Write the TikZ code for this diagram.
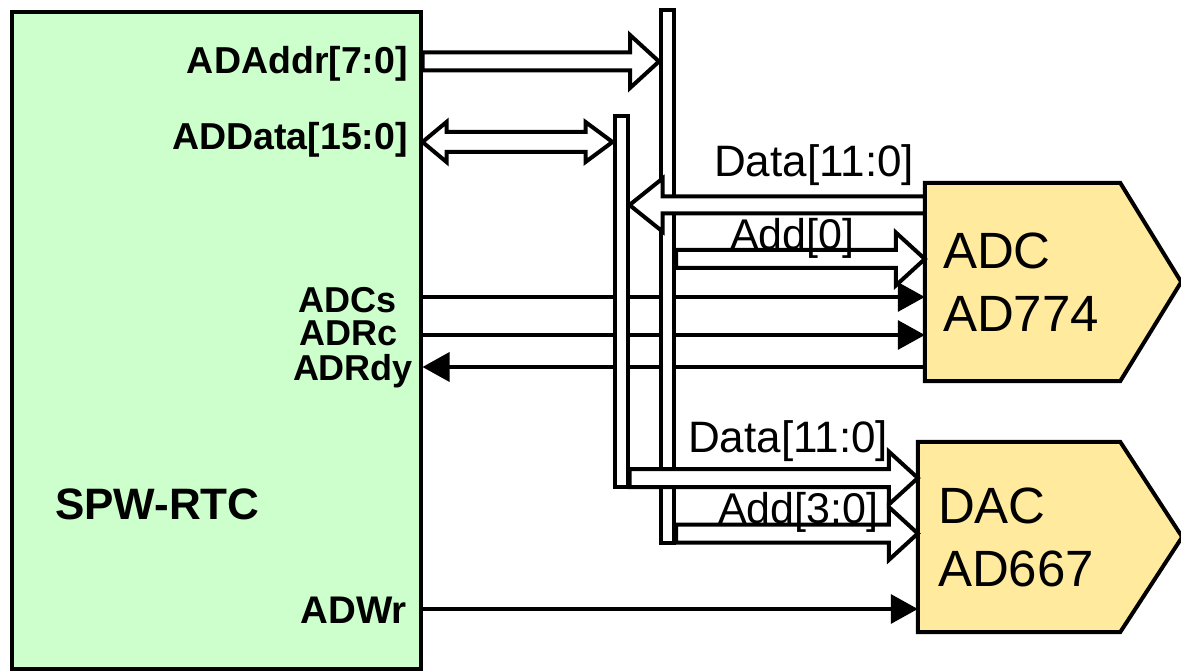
\documentclass[tikz,border=0pt]{standalone}
\usepackage{fontspec}
\setmainfont{Liberation Sans}
\usetikzlibrary{arrows.meta,positioning,calc,backgrounds}
\definecolor{rtcgreen}{RGB}{204,255,204}
\definecolor{chipyellow}{RGB}{255,234,158}
\tikzset{
  rtcbox/.style={rectangle, draw=black, fill=rtcgreen, line width=4pt, inner sep=0pt},
  chipbox/.style={rectangle, inner sep=0pt, align=left,
    font=\fontsize{51}{63}\selectfont},
  chipedge/.style={draw=black, fill=chipyellow, line width=4pt, line join=miter},
  busbar/.style={rectangle, draw=black, fill=white, line width=4pt, inner sep=0pt},
  pinlabel/.style={font=\fontsize{37.5}{37.5}\selectfont\bfseries, inner sep=0pt},
  ctllabel/.style={font=\fontsize{36}{36}\selectfont\bfseries, inner sep=0pt},
  titlelabel/.style={font=\fontsize{44}{44}\selectfont\bfseries, inner sep=0pt},
  buslabel/.style={font=\fontsize{43}{43}\selectfont, inner sep=0pt},
  sigarrow/.style={-{Triangle[length=27pt,width=29pt]}, line width=3.5pt},
}

\begin{document}
\begin{tikzpicture}[
    x=1pt, y=-1pt,
    busright/.style={draw=black, fill=white, line width=4pt, line join=miter,
      to path={let \p1=(\tikztostart), \p2=(\tikztotarget) in
        (\x1,\y1+9pt) -- (\x2-29pt,\y1+9pt) -- (\x2-29pt,\y1+26.5pt) -- (\x2,\y1)
        -- (\x2-29pt,\y1-26.5pt) -- (\x2-29pt,\y1-9pt) -- (\x1,\y1-9pt) -- cycle}},
    busleft/.style={draw=black, fill=white, line width=4pt, line join=miter,
      to path={let \p1=(\tikztostart), \p2=(\tikztotarget) in
        (\x1,\y1+8.5pt) -- (\x2+33pt,\y1+8.5pt) -- (\x2+33pt,\y1+26.5pt) -- (\x2,\y1)
        -- (\x2+33pt,\y1-26.5pt) -- (\x2+33pt,\y1-8.5pt) -- (\x1,\y1-8.5pt) -- cycle}},
    busboth/.style={draw=black, fill=white, line width=4pt, line join=miter,
      to path={let \p1=(\tikztostart), \p2=(\tikztotarget) in
        (\x1,\y1) -- (\x1+24pt,\y1+20pt) -- (\x1+24pt,\y1+10pt) -- (\x2-27pt,\y1+10pt)
        -- (\x2-27pt,\y1+20pt) -- (\x2,\y1) -- (\x2-27pt,\y1-20pt) -- (\x2-27pt,\y1-10pt)
        -- (\x1+24pt,\y1-10pt) -- (\x1+24pt,\y1-20pt) -- cycle}}
  ]
  \useasboundingbox (0,0) rectangle (1181,671);

  % ============ signal levels ============
  \coordinate (yaddr)    at (0,61.5);
  \coordinate (ydata)    at (0,142);
  \coordinate (yadcdata) at (0,205);
  \coordinate (yadd0)    at (0,259);
  \coordinate (ycs)      at (0,297);
  \coordinate (yrc)      at (0,335);
  \coordinate (yrdy)     at (0,367);
  \coordinate (ydacdata) at (0,478);
  \coordinate (yadd30)   at (0,533.5);
  \coordinate (ywr)      at (0,609);

  % ============ SPW-RTC block ============
  \node[rtcbox, minimum width=408.5, minimum height=657] (spw) at (216.25,340.5) {};
  \node[titlelabel, anchor=base west] (lrtc)  at (55,519)    {SPW-RTC};
  \node[pinlabel, anchor=base east]   (laddr) at (408,74)    {ADAddr[7:0]};
  \node[pinlabel, anchor=base east]   (ldata) at (408,150)   {ADData[15:0]};
  \node[ctllabel, anchor=base]        (lcs)   at (348,312)   {ADCs};
  \node[ctllabel, anchor=base]        (lrc)   at (348.5,345) {ADRc};
  \node[ctllabel, anchor=base]        (lrdy)  at (353,380)   {ADRdy};
  \node[pinlabel, anchor=base east, font=\fontsize{38.5}{38.5}\selectfont\bfseries]
    (lwr) at (407,623) {ADWr};

  % ============ converters ============
  \node[chipbox, minimum width=195, minimum height=198, text width=159]
    (adc) at (1022.5,282) {ADC\\AD774};
  \node[chipbox, minimum width=202, minimum height=190, text width=162]
    (dac) at (1019,537) {DAC\\AD667};
  \begin{scope}[on background layer]
    \draw[chipedge] (adc.north west) -- (adc.north east) -- ([xshift=61pt]adc.east)
      -- (adc.south east) -- (adc.south west) -- cycle;
    \draw[chipedge] (dac.north west) -- (dac.north east) -- ([xshift=62pt]dac.east)
      -- (dac.south east) -- (dac.south west) -- cycle;
  \end{scope}

  % ============ control lines (under the bus bars) ============
  \draw[sigarrow] (spw.east |- ycs)  -- (adc.west |- ycs);
  \draw[sigarrow] (spw.east |- yrc)  -- (adc.west |- yrc);
  \draw[sigarrow] (adc.west |- yrdy) -- (spw.east |- yrdy);
  \draw[sigarrow] (spw.east |- ywr)  -- (dac.west |- ywr);

  % ============ bus bars ============
  \node[busbar, minimum width=13, minimum height=533] (addrbus) at (667.5,276.5) {};
  \node[busbar, minimum width=13, minimum height=370] (databus) at (621,301.5) {};

  % ============ buses ============
  \draw[busright] (spw.east |- yaddr) to (addrbus.west |- yaddr);
  \draw[busboth]  (spw.east |- ydata) to (databus.west |- ydata);
  \draw[busleft]  (adc.west |- yadcdata) to (databus.east |- yadcdata);
  \draw[busright] (addrbus.east |- yadd0) to (adc.west |- yadd0);
  \draw[busright] (databus.east |- ydacdata) to (dac.west |- ydacdata);
  \draw[busright] (addrbus.east |- yadd30) to (dac.west |- yadd30);

  % bus names
  \node[buslabel, anchor=base west, font=\fontsize{44}{44}\selectfont]
    (ladcdata) at (714,177) {Data[11:0]};
  \node[buslabel, anchor=base west] (ladd0) at (730,250) {Add[0]};
  \node[buslabel, anchor=base west, font=\fontsize{44}{44}\selectfont]
    (ldacdata) at (688,452) {Data[11:0]};
  \node[buslabel, anchor=base west] (ladd30) at (718,523) {Add[3:0]};

\end{tikzpicture}
\end{document}
